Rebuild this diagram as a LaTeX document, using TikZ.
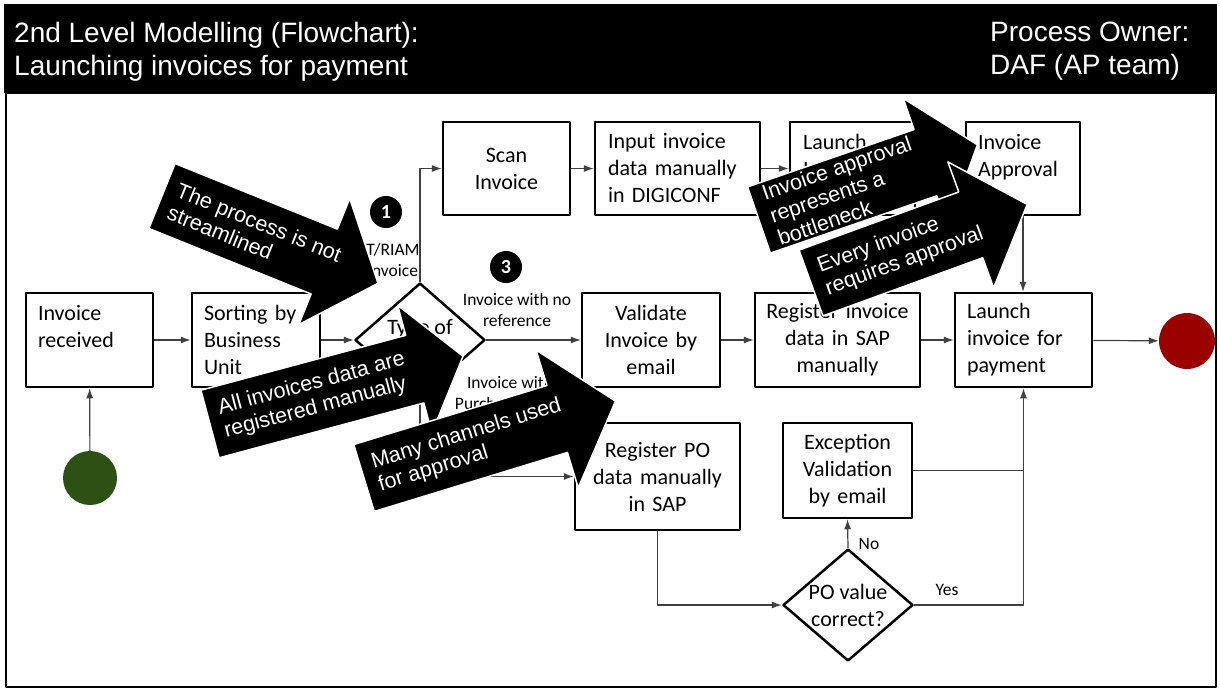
\documentclass[tikz,border=0pt]{standalone}
\usepackage{fontspec}
\setmainfont{Carlito}
\newfontfamily\arialfont{Liberation Sans}
\usetikzlibrary{shapes.geometric,arrows.meta}
\definecolor{startgreen}{RGB}{45,80,20}
\definecolor{endred}{RGB}{153,0,0}
\tikzset{
  box/.style={draw, line width=2.5pt, inner sep=0pt, font=\fontsize{22}{27}\selectfont},
  lbox/.style={box, align=left},
  cbox/.style={box, align=center},
  decision/.style={draw, diamond, aspect=1.16, line width=2.5pt, inner sep=-8pt, align=center, font=\fontsize{22}{27}\selectfont},
  flow/.style={line width=1.2pt, black!75, ->},
  note/.style={font=\fontsize{17.5}{21}\selectfont, align=center},
  numdot/.style={circle, fill=black, text=white, minimum size=32pt, inner sep=0pt, font=\bfseries\fontsize{20}{20}\selectfont},
  callout/.style={fill=black, draw=white, line width=1.5pt},
  callouttext/.style={anchor=west, align=left, text=white, inner sep=0pt, font=\arialfont\fontsize{21.5}{24}\selectfont},
  header/.style={anchor=north west, align=left, text=white, inner sep=0pt, font=\arialfont\fontsize{28}{33}\selectfont}
}
% black arrow with white text: tail x, tail y, angle, body length, head length, head half width, text
\newcommand{\callout}[7]{%
  \begin{scope}[shift={(#1,#2)}, rotate=#3]
    \filldraw[callout] (0,-35) -- (#4,-35) -- (#4,-#6) -- ({#4+#5},0) -- (#4,#6) -- (#4,35) -- (0,35) -- cycle;
    \node[callouttext, transform shape] at (12,0) {#7};
  \end{scope}}
\begin{document}
\begin{tikzpicture}[x=1pt, y=-1pt, >={Latex[length=10pt,width=7pt]}, line join=round]
  \useasboundingbox (0,0) rectangle (1220,689);
  % header and frame
  \fill (4,4) rectangle (1217,93);
  \draw[line width=1.5pt] (6,93) rectangle (1216,687);
  \node[header] (title) at (14,22) {2nd Level Modelling (Flowchart):\\Launching invoices for payment};
  \node[header] (owner) at (990,22) {Process Owner:\\DAF (AP team)};

  % main row
  \node[circle, fill=startgreen, minimum size=54pt, inner sep=0pt] (start) at (90,478) {};
  \node[lbox, minimum width=127pt, minimum height=94pt, text width=103pt] (recv) at (89.5,340) {Invoice\\received\\\mbox{}};
  \node[lbox, minimum width=128pt, minimum height=94pt, text width=104pt] (sort) at (256,340) {Sorting by\\Business\\Unit};
  \node[decision, minimum width=130pt, minimum height=114pt] (type) at (420,340) {Type of\\\mbox{}};
  \node[cbox, minimum width=138pt, minimum height=94pt, text width=128pt] (validate) at (651,340) {Validate\\Invoice by\\email};
  \node[cbox, minimum width=165pt, minimum height=94pt, text width=155pt] (regsap) at (837.5,340) {Register invoice\\data in SAP\\manually};
  \node[lbox, minimum width=137pt, minimum height=94pt, text width=113pt] (launchpay) at (1023.5,340) {Launch\\invoice for\\payment};
  \node[circle, fill=endred, minimum size=56pt, inner sep=0pt] (stop) at (1187,341) {};

  % upper row
  \node[cbox, minimum width=127pt, minimum height=93pt, text width=117pt] (scan) at (506.5,168.5) {Scan\\Invoice};
  \node[lbox, minimum width=165pt, minimum height=93pt, text width=139pt] (input) at (677.5,168.5) {Input invoice\\data manually\\in DIGICONF};
  \node[lbox, minimum width=125pt, minimum height=93pt, text width=99pt] (launchA) at (852.5,168.5) {Launch\\Invoice\\\mbox{}};
  \node[lbox, minimum width=114pt, minimum height=93pt, text width=90pt] (approval) at (1023,168.5) {Invoice\\Approval\\\mbox{}};

  % lower row
  \node[cbox, minimum width=165pt, minimum height=107pt, text width=155pt] (regpo) at (657.5,476.5) {Register PO\\data manually\\in SAP};
  \node[cbox, minimum width=129pt, minimum height=95pt, text width=119pt] (exc) at (847.5,470.5) {Exception\\Validation\\by email};
  \node[decision, minimum width=130pt, minimum height=112pt] (podiam) at (848,605) {PO value\\correct?};

  % connectors
  \draw[flow] (start) -- (recv);
  \draw[flow] (recv) -- (sort);
  \draw[flow] (sort) -- (type);
  \draw[flow] (type.north) |- (scan.west);
  \draw[flow] (scan) -- (input);
  \draw[flow] (input) -- (launchA);
  \draw[flow] (launchA) -- (approval);
  \draw[flow] (approval.south) -- (approval.south |- launchpay.north);
  \draw[flow] (type) -- (validate);
  \draw[flow] (validate) -- (regsap);
  \draw[flow] (regsap) -- (launchpay);
  \draw[flow] (launchpay) -- (stop);
  \draw[flow] (type.south) |- (regpo.west);
  \draw[flow] (regpo.south) |- (podiam.west);
  \draw[flow] (podiam.north) -- (exc.south);
  \draw[flow] (podiam.east) -| (launchpay.south);
  \draw[line width=1.2pt, black!75] (exc.east) -- (exc.east -| launchpay.south);

  % branch labels
  \node[note] (riam) at (393,260) {T/RIAM\\invoice};
  \node[note] (noref) at (517,310) {Invoice with no\\reference};
  \node[note] (withpo) at (510,393) {Invoice with\\Purchase Order};
  \node[note] (no) at (869,544) {No};
  \node[note] (yes) at (947,590) {Yes};
  \node[numdot] (one) at (386,212) {1};
  \node[numdot] (three) at (506,267) {3};

  % remarks
  \callout{162}{196}{-22}{175}{58}{68}{The process is not\\streamlined}
  \callout{210}{424}{15}{212}{50}{66}{All invoices data are\\registered manually}
  \callout{364}{478}{17}{202}{61}{72}{Many channels used\\for approval}
  \callout{759}{220}{19}{176}{55}{68}{Invoice approval\\represents a\\bottleneck}
  \callout{811}{283}{20}{170}{60}{67}{Every invoice\\requires approval}
\end{tikzpicture}
\end{document}
